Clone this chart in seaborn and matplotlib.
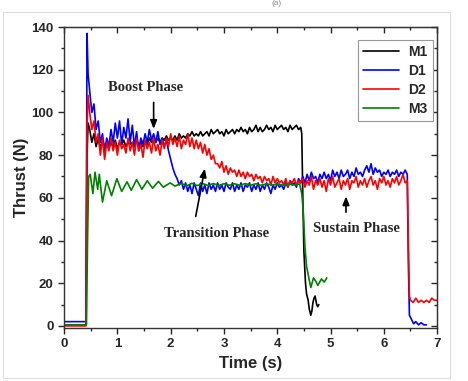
import numpy as np
import pandas as pd
import matplotlib
matplotlib.use("Agg")
import matplotlib.pyplot as plt
from matplotlib.ticker import MultipleLocator
from matplotlib.patches import Rectangle
import seaborn as sns

# ─── DATA ─────────────────────────────────────────────────────
SERIES = ["M1", "D1", "D2", "M3"]
COLORS = {"M1": "#000000", "D1": "#0000FF", "D2": "#FF0000", "M3": "#008000"}

# sample times of the noisy parts: 0.48 ... 6.44 s every 0.04 s
GRID_T = np.round(0.48 + 0.04 * np.arange(150), 2)
START_T = [0.00, 0.10, 0.20, 0.30, 0.41, 0.43, 0.45]

# M1 (black)
m1_start = [0.5, 0.5, 0.5, 0.5, 0.5, 80, 95]
m1_grid = [92, 86, 90, 84, 88, 83, 87, 84, 86, 83,
           86, 84, 87, 83, 86, 85, 87, 84, 86, 85,
           86, 84, 87, 85, 86, 84, 87, 85, 88, 86,
           87, 86, 88, 86, 88, 87, 89, 87, 88, 87,
           89, 87, 90, 88, 89, 88, 90, 89, 91, 89,
           90, 89, 91, 89, 90, 91, 89, 92, 90, 91,
           92, 90, 91, 89, 92, 90, 91, 92, 90, 92,
           91, 93, 91, 92, 90, 93, 91, 92, 94, 91,
           93, 91, 92, 94, 92, 93, 91, 94, 92, 93,
           94, 92, 93, 91, 94, 92, 93, 94, 92, 93]
m1_tail_t = [4.46, 4.48, 4.50, 4.53, 4.55, 4.58, 4.60, 4.63, 4.65, 4.67, 4.69, 4.71, 4.74, 4.76, 4.78]
m1_tail = [90, 60, 35, 20, 15, 12, 8, 5, 7, 11, 13, 14, 10, 9, 10]

# D1 (blue)
d1_start = [2, 2, 2, 2, 2, 137, 118]
d1_grid = [110, 100, 104, 92, 96, 86, 90, 82, 88, 84,
           92, 86, 95, 88, 96, 85, 93, 88, 97, 86,
           94, 84, 91, 82, 88, 85, 90, 86, 92, 87,
           90, 86, 91, 85, 88, 84, 87, 82, 78, 74,
           71, 69, 66, 68, 64, 67, 63, 66, 62, 67,
           64, 61, 67, 63, 66, 62, 67, 64, 66, 63,
           67, 64, 66, 63, 67, 65, 64, 67, 63, 66,
           64, 67, 63, 66, 65, 67, 63, 66, 64, 67,
           63, 66, 64, 67, 65, 62, 66, 64, 67, 65,
           66, 64, 67, 65, 68, 66, 67, 65, 69, 67,
           70, 67, 71, 68, 72, 69, 70, 67, 71, 69,
           72, 69, 71, 68, 73, 70, 72, 69, 73, 70,
           71, 73, 69, 72, 70, 74, 71, 72, 70, 73,
           75, 72, 76, 71, 74, 72, 73, 70, 72, 71,
           73, 70, 72, 71, 73, 70, 72, 71, 73, 71]
d1_tail_t = [6.46, 6.48, 6.52, 6.56, 6.60, 6.65, 6.70, 6.75, 6.80]
d1_tail = [30, 5, 3, 1, 2, 0.5, 1.5, 0.5, 0.5]

# D2 (red)
d2_start = [0, 0, 0, 0, 0, 95, 108]
d2_grid = [100, 92, 96, 86, 90, 80, 88, 78, 86, 82,
           88, 82, 86, 80, 87, 83, 85, 81, 88, 82,
           86, 80, 88, 82, 85, 79, 87, 83, 86, 81,
           88, 82, 85, 80, 87, 83, 88, 84, 90, 85,
           88, 84, 89, 83, 87, 85, 90, 84, 88, 83,
           87, 83, 86, 81, 85, 80, 83, 78, 80, 76,
           76, 74, 77, 72, 75, 71, 74, 72, 73, 70,
           73, 70, 72, 69, 72, 70, 71, 68, 71, 69,
           70, 67, 70, 68, 69, 66, 70, 67, 69, 67,
           68, 66, 69, 65, 68, 67, 69, 66, 68, 67,
           69, 65, 68, 66, 70, 64, 68, 66, 69, 65,
           68, 63, 69, 66, 70, 65, 67, 69, 64, 68,
           66, 69, 64, 68, 67, 70, 65, 68, 66, 69,
           65, 68, 70, 66, 68, 64, 69, 67, 70, 66,
           68, 65, 69, 67, 70, 66, 68, 71, 67, 68]
d2_tail_t = [6.46, 6.48, 6.50, 6.55, 6.60, 6.65, 6.70, 6.75, 6.80, 6.85, 6.90, 6.95, 7.00]
d2_tail = [40, 14, 12, 11, 13, 11, 12, 11, 12, 11, 13, 12, 12]

# M3 (green)
m3_t = [0.00, 0.10, 0.20, 0.30, 0.42, 0.44, 0.46, 0.49, 0.54, 0.58, 0.63, 0.66, 0.72,
        0.80, 0.89, 0.99, 1.08, 1.18, 1.26, 1.36, 1.46, 1.56, 1.66, 1.77, 1.86, 1.99,
        2.08, 2.20, 2.30, 2.40, 2.50, 2.60, 2.70, 2.80, 2.90, 3.00, 3.10, 3.20, 3.30,
        3.40, 3.50, 3.60, 3.70, 3.80, 3.90, 4.00, 4.10, 4.20, 4.30, 4.42, 4.46, 4.49,
        4.52, 4.55, 4.60, 4.63, 4.68, 4.72, 4.76, 4.83, 4.88, 4.93]
m3 = [0.5, 0.5, 0.5, 0.5, 0.5, 40, 70, 71, 62, 72, 64, 71, 58,
      68, 61, 69, 63, 67.5, 63.5, 68.5, 64, 68, 64.5, 67.7, 65, 67,
      65.5, 66.8, 65.6, 66.8, 65.7, 66.7, 65.8, 66.7, 65.8, 66.6, 65.9, 66.6, 65.8,
      66.7, 65.9, 66.6, 65.8, 66.6, 65.9, 66.5, 65.9, 66.6, 66.0, 66.5, 62, 53,
      37, 28, 21.5, 18, 22.5, 21, 19, 22, 20.5, 22.5]

frames = [
    pd.DataFrame({"t": START_T + list(GRID_T[:100]) + m1_tail_t,
                  "thrust": m1_start + m1_grid + m1_tail, "motor": "M1"}),
    pd.DataFrame({"t": START_T + list(GRID_T) + d1_tail_t,
                  "thrust": d1_start + d1_grid + d1_tail, "motor": "D1"}),
    pd.DataFrame({"t": START_T + list(GRID_T) + d2_tail_t,
                  "thrust": d2_start + d2_grid + d2_tail, "motor": "D2"}),
    pd.DataFrame({"t": m3_t, "thrust": m3, "motor": "M3"}),
]
df = pd.concat(frames, ignore_index=True)

# ─── PLOT ─────────────────────────────────────────────────────
sns.set_style("ticks")
plt.rcParams["font.family"] = ["Liberation Sans", "DejaVu Sans"]

fig = plt.figure(figsize=(4.68, 3.81), dpi=100)
ax = fig.add_axes([0.137, 0.139, 0.797, 0.790])

sns.lineplot(data=df, x="t", y="thrust", hue="motor", hue_order=SERIES,
             palette=COLORS, estimator=None, sort=False, linewidth=1.2, ax=ax)

ax.set_xlim(0, 7)
ax.set_ylim(-1, 140)
ax.xaxis.set_major_locator(MultipleLocator(1))
ax.xaxis.set_minor_locator(MultipleLocator(0.5))
ax.yaxis.set_major_locator(MultipleLocator(20))
ax.yaxis.set_minor_locator(MultipleLocator(10))
ax.tick_params(which="major", direction="out", length=4, width=1, labelsize=9.5)
ax.tick_params(which="minor", direction="out", length=2.5, width=1)
for lab in ax.get_xticklabels() + ax.get_yticklabels():
    lab.set_fontweight("bold")
for sp in ax.spines.values():
    sp.set_visible(True)
    sp.set_linewidth(1.0)
    sp.set_color("#333333")

# mirrored inward ticks on top / right, as in the original
top = ax.secondary_xaxis("top")
top.xaxis.set_major_locator(MultipleLocator(1))
top.xaxis.set_minor_locator(MultipleLocator(0.5))
top.tick_params(which="major", direction="in", length=4, width=1, labeltop=False)
top.tick_params(which="minor", direction="in", length=2.5, width=1)
right = ax.secondary_yaxis("right")
right.yaxis.set_major_locator(MultipleLocator(20))
right.yaxis.set_minor_locator(MultipleLocator(10))
right.tick_params(which="major", direction="in", length=4, width=1, labelright=False)
right.tick_params(which="minor", direction="in", length=2.5, width=1)

ax.set_xlabel("Time (s)", fontsize=12, fontweight="bold", labelpad=4)
ax.set_ylabel("Thrust (N)", fontsize=12, fontweight="bold", labelpad=2)

leg = ax.legend(loc="upper right", bbox_to_anchor=(0.988, 0.958), borderaxespad=0,
                fancybox=False, edgecolor="#999999", framealpha=1,
                prop={"weight": "bold", "size": 10}, handlelength=2.6,
                labelspacing=0.35, borderpad=0.4, handletextpad=0.6)
leg.get_frame().set_linewidth(0.8)
for line in leg.get_lines():
    line.set_linewidth(1.2)

# phase annotations
serif = {"family": ["Liberation Serif", "DejaVu Serif"], "weight": "bold", "size": 10.5}
arrow = dict(arrowstyle="-|>,head_length=0.5,head_width=0.2", color="black", lw=1.2)
ax.annotate("", xy=(1.68, 91), xytext=(1.68, 106), arrowprops=arrow)
ax.text(1.52, 111.5, "Boost Phase", ha="center", va="center", fontdict=serif)
ax.annotate("", xy=(2.65, 75), xytext=(2.46, 50), arrowprops=arrow)
ax.text(2.86, 43.5, "Transition Phase", ha="center", va="center", fontdict=serif)
ax.annotate("", xy=(5.29, 62), xytext=(5.29, 52), arrowprops=arrow)
ax.text(5.49, 45.7, "Sustain Phase", ha="center", va="center", fontdict=serif)

# faint frame around the figure and the small panel label above it
fig.patches.append(Rectangle((3 / 468, 3 / 381), 447 / 468, 366 / 381,
                             transform=fig.transFigure, fill=False,
                             edgecolor="#dddddd", linewidth=0.8))
fig.text(0.59, 0.999, "(a)", ha="center", va="top", fontsize=6, color="#888888")

fig.savefig("out.png", dpi=100)
